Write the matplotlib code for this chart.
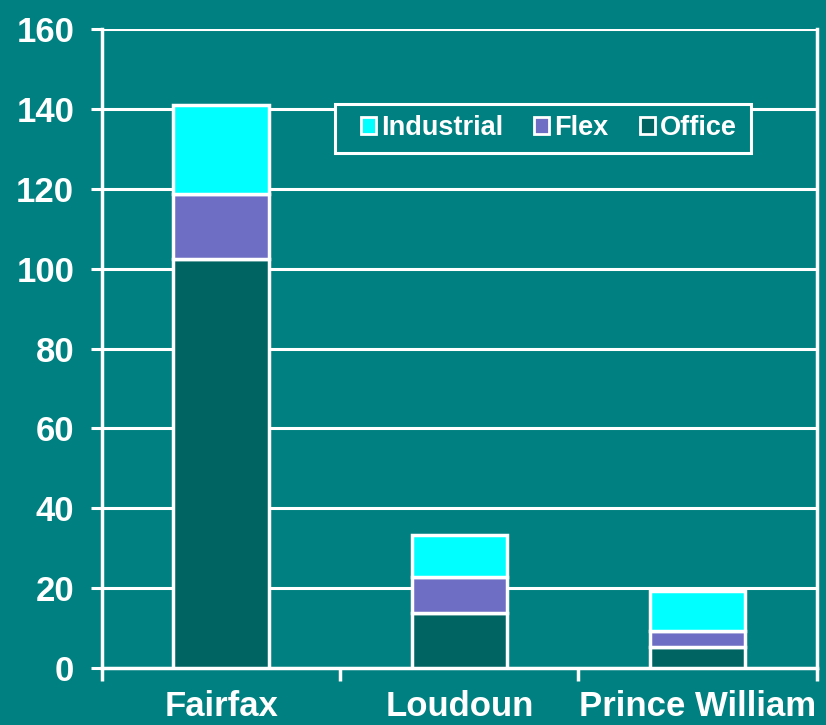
import matplotlib
matplotlib.use("Agg")
import matplotlib.pyplot as plt
import numpy as np
from matplotlib.patches import Patch, Rectangle

# data
counties = ["Fairfax", "Loudoun", "Prince William"]
office = [102.4, 13.9, 5.3]
flex = [16.4, 9.0, 3.9]
industrial = [22.1, 10.4, 10.1]
yticks = [0, 20, 40, 60, 80, 100, 120, 140, 160]

bg = "#008080"
c_office = "#006462"
c_flex = "#6E6EC4"
c_ind = "#00FFFF"

plt.rcParams["font.family"] = ["Liberation Sans", "DejaVu Sans"]
plt.rcParams["font.weight"] = "bold"

fig = plt.figure(figsize=(8.26, 7.25), dpi=100, facecolor=bg)
ax = fig.add_axes([0.1235, 0.0786, 0.8652, 0.8814], facecolor=bg)

x = np.arange(len(counties))
w = 0.40
office = np.array(office)
flex = np.array(flex)
industrial = np.array(industrial)

ax.bar(x, office, w, color=c_office, edgecolor="white", linewidth=2.5, zorder=3)
ax.bar(x, flex, w, bottom=office, color=c_flex, edgecolor="white", linewidth=2.5, zorder=3)
ax.bar(x, industrial, w, bottom=office + flex, color=c_ind, edgecolor="white", linewidth=2.5, zorder=3)

ax.set_xlim(-0.5, 2.5)
ax.set_ylim(0, 160)
ax.set_yticks(yticks)
ax.set_yticklabels([str(v) for v in yticks])
ax.yaxis.grid(True, color="white", linewidth=2.2)
ax.set_axisbelow(True)

ax.set_xticks(x)
ax.set_xticklabels(counties)
ax.set_xticks([-0.5, 0.5, 1.5, 2.5], minor=True)
ax.tick_params(axis="x", which="major", length=0, pad=16, labelsize=25, labelcolor="white")
ax.tick_params(axis="x", which="minor", length=9, width=2.5, color="white", direction="out")
ax.tick_params(axis="y", length=8, width=2.2, color="white", pad=12, labelsize=25, labelcolor="white")

for s in ["left", "right", "bottom"]:
    ax.spines[s].set_color("white")
    ax.spines[s].set_linewidth(2.5)
ax.spines["top"].set_visible(False)

# legend box drawn separately so the padding matches
box = Rectangle((0.326, 0.806), 0.582, 0.077, transform=ax.transAxes,
                facecolor=bg, edgecolor="white", linewidth=2.2, zorder=4)
ax.add_patch(box)

handles = [
    Patch(facecolor=c_ind, edgecolor="white", linewidth=2),
    Patch(facecolor=c_flex, edgecolor="white", linewidth=2),
    Patch(facecolor=c_office, edgecolor="white", linewidth=2),
]
leg = ax.legend(handles, ["Industrial", "Flex", "Office"], ncol=3,
                loc="center", bbox_to_anchor=(0.6254, 0.845),
                fontsize=19.5, handlelength=0.55, handleheight=0.6,
                handletextpad=0.2, columnspacing=1.15, borderpad=0.3,
                borderaxespad=0, frameon=False)
leg.set_zorder(5)
for t in leg.get_texts():
    t.set_color("white")
    t.set_fontweight("bold")

fig.savefig("out.png", dpi=100, facecolor=bg)
